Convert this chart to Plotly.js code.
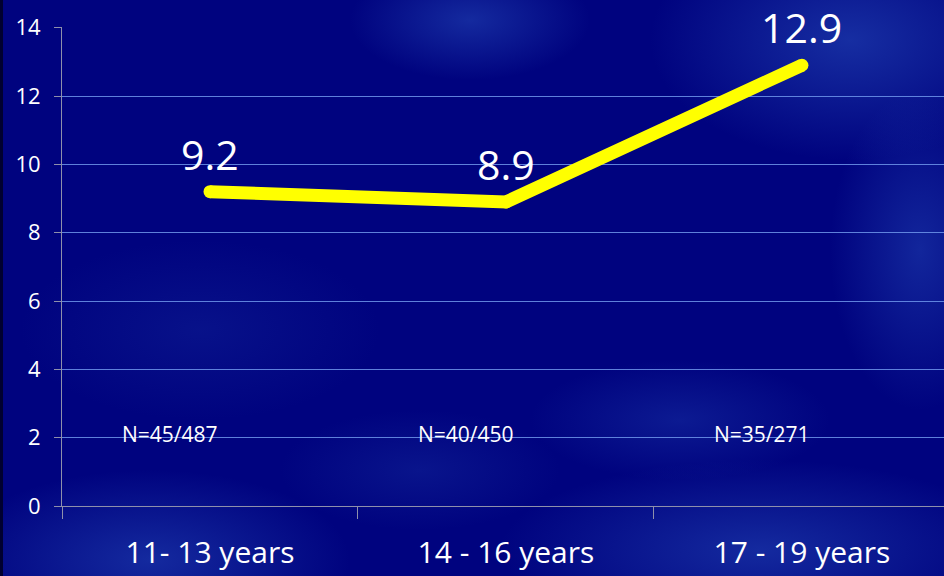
<!DOCTYPE html>
<html>
<head>
<meta charset="utf-8">
<script src="https://cdn.plot.ly/plotly-3.0.1.min.js"></script>
<style>
  html, body { margin: 0; padding: 0; background: #000080; }
  #wrap {
    position: relative;
    width: 944px;
    height: 576px;
    overflow: hidden;
    background:
      radial-gradient(ellipse 120px 60px at 470px 20px, rgba(40,80,190,0.5), rgba(40,80,190,0) 100%),
      radial-gradient(ellipse 200px 120px at 850px 40px, rgba(40,80,190,0.55), rgba(40,80,190,0) 100%),
      radial-gradient(ellipse 90px 160px at 920px 250px, rgba(40,80,190,0.45), rgba(40,80,190,0) 100%),
      radial-gradient(ellipse 200px 90px at 150px 560px, rgba(40,80,190,0.5), rgba(40,80,190,0) 100%),
      radial-gradient(ellipse 260px 90px at 760px 550px, rgba(40,80,190,0.5), rgba(40,80,190,0) 100%),
      radial-gradient(ellipse 150px 60px at 680px 420px, rgba(40,80,190,0.3), rgba(40,80,190,0) 100%),
      radial-gradient(ellipse 180px 90px at 200px 330px, rgba(30,60,170,0.25), rgba(30,60,170,0) 100%),
      radial-gradient(ellipse 140px 60px at 420px 470px, rgba(30,60,170,0.3), rgba(30,60,170,0) 100%),
      #00037f;
  }
  #edge {
    position: absolute; left: 0; top: 0; width: 3px; height: 576px;
    background: #000030;
  }
  #chart { position: absolute; left: 0; top: 0; width: 944px; height: 576px; }
</style>
</head>
<body>
<div id="wrap">
  <div id="chart"></div>
  <div id="edge"></div>
</div>
<script>
// Age groups and the rate measured in each
const categories = ['11- 13 years', '14 - 16 years', '17 - 19 years'];
const rates = [9.2, 8.9, 12.9];
const sampleLabels = ['N=45/487', 'N=40/450', 'N=35/271'];
const sampleLabelLevel = 2;
const yTicks = [0, 2, 4, 6, 8, 10, 12, 14];

const FONT = '"Open Sans", "Noto Sans", sans-serif';
const AXIS_GREY = '#8e90ab';
const YELLOW = '#ffff00';

const trace = {
  type: 'scatter',
  mode: 'lines+markers',
  x: categories,
  y: rates,
  line: { color: YELLOW, width: 13 },
  marker: { color: YELLOW, size: 13, line: { width: 0 } },
  hoverinfo: 'skip',
  cliponaxis: false
};

const annotations = [];
rates.forEach((v, i) => {
  annotations.push({
    x: categories[i], y: v, xref: 'x', yref: 'y',
    text: v.toFixed(1), showarrow: false,
    yshift: 38,
    font: { family: FONT, size: 41, color: '#ffffff' }
  });
});
sampleLabels.forEach((t, i) => {
  annotations.push({
    x: i, y: sampleLabelLevel, xref: 'x', yref: 'y',
    text: t, showarrow: false,
    xshift: -40, yshift: 4,
    font: { family: FONT, size: 21, color: '#ffffff' }
  });
});

const layout = {
  width: 944,
  height: 576,
  margin: { l: 62, r: 0, t: 27, b: 70, pad: 0 },
  paper_bgcolor: 'rgba(0,0,0,0)',
  plot_bgcolor: 'rgba(0,0,0,0)',
  showlegend: false,
  font: { family: FONT, color: '#ffffff' },
  xaxis: {
    type: 'category',
    range: [-0.5, 2.48],
    tickson: 'boundaries',
    ticks: 'outside',
    ticklen: 12,
    tickwidth: 1,
    tickcolor: AXIS_GREY,
    showline: true,
    linecolor: AXIS_GREY,
    linewidth: 1,
    showgrid: false,
    zeroline: false,
    tickfont: { family: FONT, size: 30, color: '#ffffff' },
    ticklabelstandoff: 20,
    fixedrange: true
  },
  yaxis: {
    range: [0, 14.02],
    tickmode: 'array',
    tickvals: yTicks,
    ticktext: yTicks.map(String),
    ticks: 'outside',
    ticklen: 7,
    tickwidth: 1,
    tickcolor: AXIS_GREY,
    showline: true,
    linecolor: AXIS_GREY,
    linewidth: 1,
    showgrid: true,
    gridcolor: 'rgba(110,150,235,0.85)',
    gridwidth: 1,
    zeroline: false,
    tickfont: { family: FONT, size: 22, color: '#ffffff' },
    ticklabelstandoff: 9,
    fixedrange: true
  },
  annotations: annotations
};

Plotly.newPlot('chart', [trace], layout, { displayModeBar: false, staticPlot: true });
</script>
</body>
</html>
